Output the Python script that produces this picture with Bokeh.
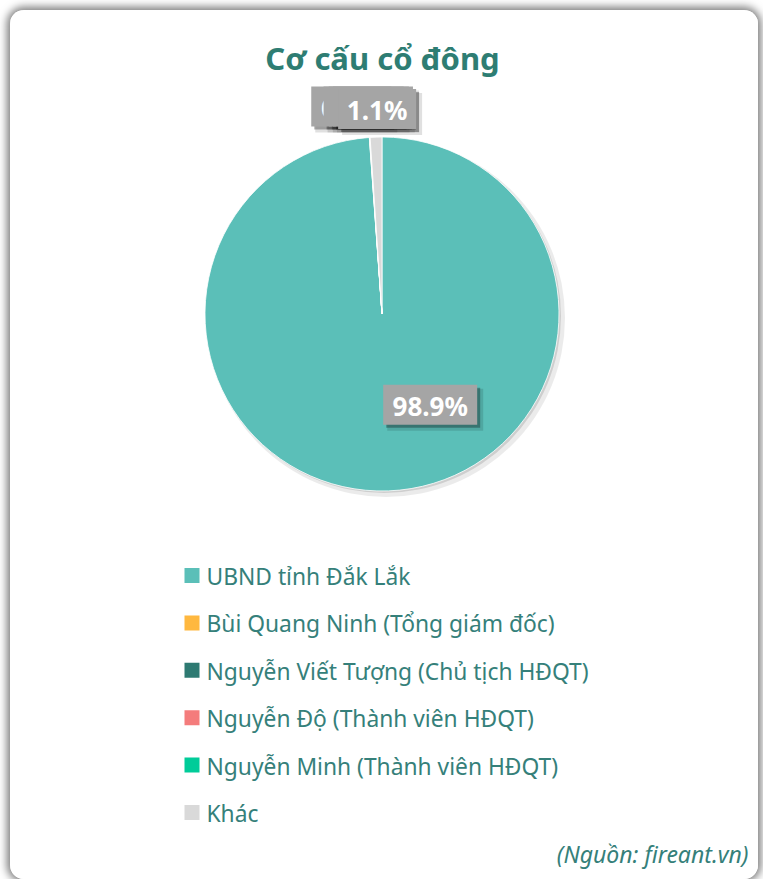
import math
from bokeh.plotting import figure
from bokeh.models import Range1d, ColumnDataSource
from bokeh.core.properties import value
from bokeh.embed import file_html
from bokeh.resources import INLINE

# ---- data ----
categories = ["UBND tỉnh Đắk Lắk", "Bùi Quang Ninh (Tổng giám đốc)",
              "Nguyễn Viết Tượng (Chủ tịch HĐQT)", "Nguyễn Độ (Thành viên HĐQT)",
              "Nguyễn Minh (Thành viên HĐQT)", "Khác"]
shares = [98.86, 0.02, 0.03, 0.01, 0.01, 1.07]
colors = ["#5BBFB8", "#FFB83F", "#2E7A72", "#F47C7C", "#00CC99", "#D9D9D9"]
title_text = "Cơ cấu cổ đông"
source_text = "(Nguồn: fireant.vn)"

OX, OY = 10, 10
W, H = 748, 869
FONT = "Noto Sans"
TEAL = "#2E7D73"

def X(v):
    return v - OX

def Y(v):
    return H - (v - OY)

p = figure(width=W, height=H, output_backend="svg", toolbar_location=None,
           x_axis_type=None, y_axis_type=None, min_border=0,
           x_range=Range1d(0, W), y_range=Range1d(0, H))
p.outline_line_color = None
p.grid.visible = False
p.background_fill_color = "white"
p.border_fill_color = "white"
p.styles = {"border-radius": "14px", "box-shadow": "0 0 8px 3px #7a7a7a",
            "overflow": "hidden", "margin-left": f"{OX}px", "margin-top": f"{OY}px"}

# pie geometry
cx, cy, r = X(381.5), Y(313.5), 177

total = sum(shares)
starts, ends, mids = [], [], []
cum = 0.0
for s in shares:
    a0 = cum / total * 2 * math.pi
    cum += s
    a1 = cum / total * 2 * math.pi
    starts.append(math.pi / 2 - a0)
    ends.append(math.pi / 2 - a1)
    mids.append((a0 + a1) / 2)  # clockwise from top

# pie shadow
p.circle(x=[cx + 4], y=[cy - 4], radius=r + 2, fill_color="black", fill_alpha=0.08, line_color=None)
p.circle(x=[cx + 2], y=[cy - 2], radius=r, fill_color="black", fill_alpha=0.12, line_color=None)

src = ColumnDataSource(dict(start=starts, end=ends, color=colors))
p.wedge(x=cx, y=cy, radius=r, start_angle="start", end_angle="end", direction="clock",
        fill_color="color", line_color="white", line_width=0.8, source=src)

# data labels
def fmt(s):
    return f"{s / total * 100:.1f}%"

lab_x, lab_y, lab_t, lab_w = [], [], [], []
# big slice: inside, best-fit placement
big_theta = math.radians(152)
lab_x.append(cx + 0.58 * r * math.sin(big_theta))
lab_y.append(cy + 0.58 * r * math.cos(big_theta))
lab_t.append(fmt(shares[0]))
lab_w.append(94)
# small slices: outside, stacked by collision avoidance
shift = [-16, -4, 1, 5]
for i in range(1, 5):
    th = mids[i]
    lab_x.append(cx + (r + 31) * math.sin(th) + shift[i - 1])
    lab_y.append(cy + (r + 31) * math.cos(th))
    lab_t.append(fmt(shares[i]))
    lab_w.append(80)
th = mids[5]
lab_x.append(cx + (r + 28) * math.sin(th) + 2)
lab_y.append(cy + (r + 28) * math.cos(th))
lab_t.append(fmt(shares[5]))
lab_w.append(78)

order = [1, 2, 3, 4, 5, 0]
for k in order:
    x, y, t, w = lab_x[k], lab_y[k], lab_t[k], lab_w[k]
    p.rect(x=[x + 5], y=[y - 5], width=w + 2, height=42, fill_color="black", fill_alpha=0.12, line_color=None)
    p.rect(x=[x + 3], y=[y - 3], width=w, height=40, fill_color="black", fill_alpha=0.3, line_color=None)
    p.rect(x=[x], y=[y], width=w, height=40, fill_color="#A5A5A5", line_color=None)
    p.text(x=[x], y=[y - 1], text=[t], text_color="white", text_font=value(FONT),
           text_font_style="bold", text_font_size="26px", text_align="center", text_baseline="middle")

# title
p.text(x=[X(382)], y=[Y(57)], text=[title_text], text_color=TEAL, text_font=value(FONT),
       text_font_style="bold", text_font_size="31px", text_align="center", text_baseline="middle")

# legend
leg_top = Y(575)
step = 47.4
lx = [X(184) + 7.5] * len(categories)
ly = [leg_top - i * step for i in range(len(categories))]
p.rect(x=lx, y=ly, width=15, height=15, fill_color=colors, line_color=None)
p.text(x=[X(206)] * len(categories), y=[v - 1 for v in ly], text=categories, text_color="#35807A",
       text_font=value(FONT), text_font_size="22.8px", text_align="left", text_baseline="middle")

# source
p.text(x=[X(748)], y=[Y(853)], text=[source_text], text_color="#35807A",
       text_font=value(FONT), text_font_style="italic", text_font_size="23px",
       text_align="right", text_baseline="middle")

open("out.html", "w").write(file_html(p, INLINE))
